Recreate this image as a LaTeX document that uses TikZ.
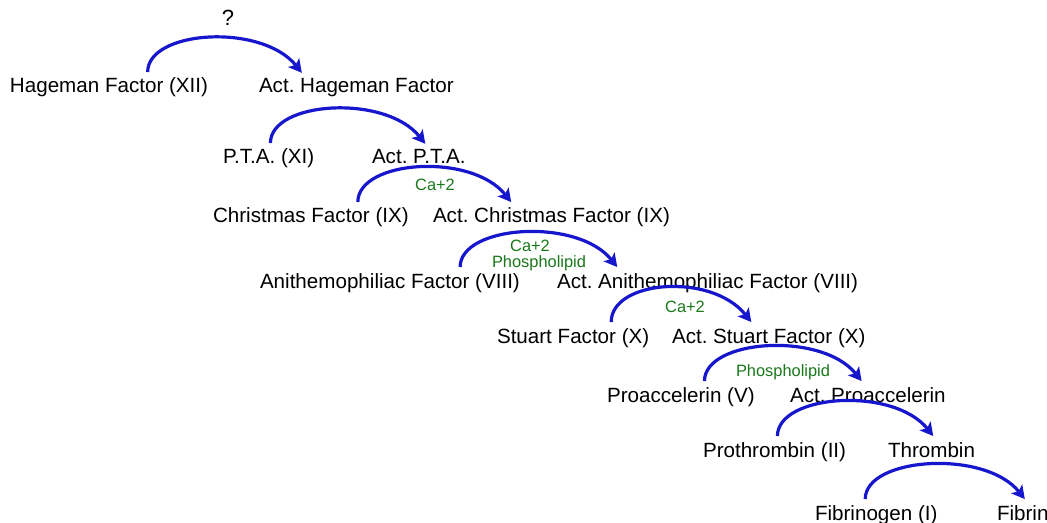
\documentclass[tikz,border=0pt]{standalone}
\usepackage{fontspec}
\setmainfont{Liberation Sans}
\usetikzlibrary{calc,arrows.meta}
\definecolor{arcblue}{RGB}{22,22,205}
\definecolor{labgreen}{RGB}{25,120,25}
\frenchspacing
\begin{document}
\begin{tikzpicture}[x=0.5pt,y=-0.5pt,
  factor/.style={anchor=base west,inner xsep=0pt,inner ysep=3pt,outer sep=0pt,font=\fontsize{10.3pt}{12pt}\selectfont,text=black},
  cof/.style={inner sep=0pt,font=\fontsize{8.2pt}{9pt}\selectfont,text=labgreen},
  arc/.style={draw=arcblue,line width=1.6pt,-{Stealth[length=6.5pt,width=7pt,inset=1.5pt]}}]
\useasboundingbox (0,0) rectangle (1047,523);
% row 1
\node[factor] (f12) at (10,93) {Hageman Factor (XII)};
\node[factor] (a12) at (259,93) {Act. Hageman Factor};
% row 2
\node[factor] (f11) at (223,164) {P.T.A. (XI)};
\node[factor] (a11) at (372,164) {Act. P.T.A.};
% row 3
\node[factor] (f9) at (213,223) {Christmas Factor (IX)};
\node[factor] (a9) at (433,223) {Act. Christmas Factor (IX)};
% row 4
\node[factor] (f8) at (260,288) {Anithemophiliac Factor (VIII)};
\node[factor] (a8) at (557,288) {Act. Anithemophiliac Factor (VIII)};
% row 5
\node[factor] (f10) at (497,343) {Stuart Factor (X)};
\node[factor] (a10) at (672,343) {Act. Stuart Factor (X)};
% row 6
\node[factor] (f5) at (607,402) {Proaccelerin (V)};
\node[factor] (a5) at (790,402) {Act. Proaccelerin};
% row 7
\node[factor] (f2) at (703,457) {Prothrombin (II)};
\node[factor] (a2) at (888,457) {Thrombin};
% row 8
\node[factor] (f1) at (815,520) {Fibrinogen (I)};
\node[factor] (a1) at (997,520) {Fibrin};
% labels
\node[inner sep=0pt,font=\fontsize{11pt}{12pt}\selectfont] (q) at (228,18) {?};
\node[cof] (c9) at (435,185) {Ca+2};
\node[cof] (c8) at (530,246) {Ca+2};
\node[cof] (p8) at (539,263) {Phospholipid};
\node[cof] (c10) at (685,307) {Ca+2};
\node[cof] (p5) at (783,372) {Phospholipid};
% arcs
\newcommand{\cascade}[4]{%
  \draw[arc] ($(#1.north west)!#2!(#1.north east)$) .. controls +(0,-42) and +(-40,-50) .. ($(#3.north west)!#4!(#3.north east)$);}
\cascade{f12}{0.695}{a12}{0.22}
\cascade{f11}{0.52}{a11}{0.57}
\cascade{f9}{0.74}{a9}{0.33}
\cascade{f8}{0.77}{a8}{0.20}
\cascade{f10}{0.75}{a10}{0.41}
\cascade{f5}{0.66}{a5}{0.46}
\cascade{f2}{0.52}{a2}{0.52}
\cascade{f1}{0.41}{a1}{0.54}
\end{tikzpicture}
\end{document}
